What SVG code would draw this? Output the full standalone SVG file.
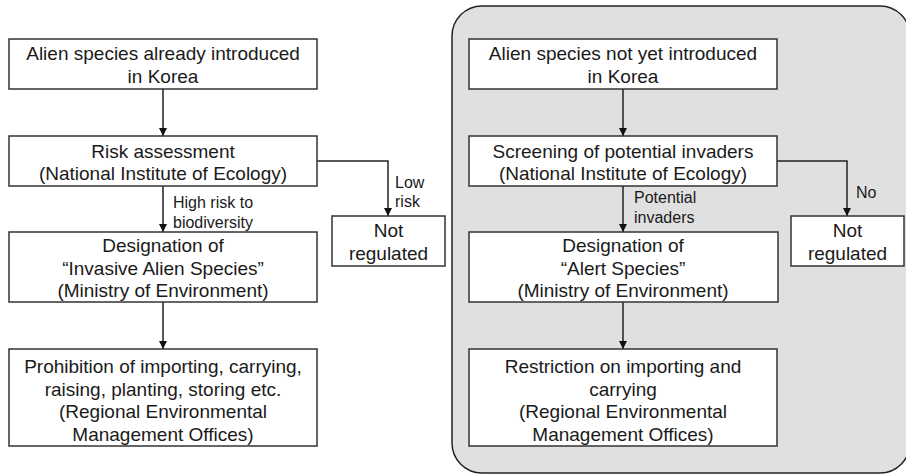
<svg xmlns="http://www.w3.org/2000/svg" width="906" height="474" viewBox="0 0 906 474">
<defs>
<style>
.box{fill:#fff;stroke:#333;stroke-width:1.5}
.t{font-family:"Liberation Sans",Arial,sans-serif;font-size:19px;fill:#1a1a1a;text-anchor:middle}
.s{font-family:"Liberation Sans",Arial,sans-serif;font-size:16px;fill:#1a1a1a}
.c{fill:none;stroke:#222;stroke-width:1.5}
</style>
<marker id="ah" viewBox="0 0 10 10" refX="10" refY="5" markerWidth="8" markerHeight="8" markerUnits="userSpaceOnUse" orient="auto">
<path d="M0,0 L10,5 L0,10 Z" fill="#111"/>
</marker>
</defs>
<rect width="906" height="474" fill="#fff"/>
<rect id="panel" x="452" y="6" width="458" height="467" rx="30" ry="30" fill="#e0e0e0" stroke="#222" stroke-width="1.5"/>

<g id="connectors">
<line class="c" x1="163" y1="89" x2="163" y2="136" marker-end="url(#ah)"/>
<line class="c" x1="163" y1="186" x2="163" y2="232" marker-end="url(#ah)"/>
<line class="c" x1="163" y1="302" x2="163" y2="349" marker-end="url(#ah)"/>
<polyline class="c" points="317,161 388,161 388,216" marker-end="url(#ah)"/>
<line class="c" x1="623" y1="89" x2="623" y2="136" marker-end="url(#ah)"/>
<line class="c" x1="623" y1="186" x2="623" y2="232" marker-end="url(#ah)"/>
<line class="c" x1="623" y1="302" x2="623" y2="349" marker-end="url(#ah)"/>
<polyline class="c" points="777,161 847,161 847,216" marker-end="url(#ah)"/>
<text class="s" x="173" y="208">High risk to</text>
<text class="s" x="173" y="228">biodiversity</text>
<text class="s" x="395" y="188">Low</text>
<text class="s" x="395" y="207">risk</text>
<text class="s" x="634" y="203">Potential</text>
<text class="s" x="634" y="223">invaders</text>
<text class="s" x="856" y="198">No</text>
</g>

<g id="l1">
<rect class="box" x="9" y="39" width="308" height="50"/>
<text class="t" x="163" y="60">Alien species already introduced</text>
<text class="t" x="163" y="83">in Korea</text>
</g>
<g id="l2">
<rect class="box" x="9" y="136" width="308" height="50"/>
<text class="t" x="163" y="158">Risk assessment</text>
<text class="t" x="163" y="180">(National Institute of Ecology)</text>
</g>
<g id="l3">
<rect class="box" x="9" y="232" width="308" height="70"/>
<text class="t" x="163" y="252">Designation of</text>
<text class="t" x="163" y="275">“Invasive Alien Species”</text>
<text class="t" x="163" y="297">(Ministry of Environment)</text>
</g>
<g id="l4">
<rect class="box" x="9" y="349" width="308" height="97"/>
<text class="t" x="163" y="373">Prohibition of importing, carrying,</text>
<text class="t" x="163" y="396">raising, planting, storing etc.</text>
<text class="t" x="163" y="418">(Regional Environmental</text>
<text class="t" x="163" y="441">Management Offices)</text>
</g>
<g id="lnr">
<rect class="box" x="332" y="216" width="113" height="50"/>
<text class="t" x="388.5" y="237">Not</text>
<text class="t" x="388.5" y="260">regulated</text>
</g>

<g id="r1">
<rect class="box" x="469" y="39" width="308" height="50"/>
<text class="t" x="623" y="60">Alien species not yet introduced</text>
<text class="t" x="623" y="83">in Korea</text>
</g>
<g id="r2">
<rect class="box" x="469" y="136" width="308" height="50"/>
<text class="t" x="623" y="158">Screening of potential invaders</text>
<text class="t" x="623" y="180">(National Institute of Ecology)</text>
</g>
<g id="r3">
<rect class="box" x="469" y="232" width="309" height="70"/>
<text class="t" x="623" y="252">Designation of</text>
<text class="t" x="623" y="275">“Alert Species”</text>
<text class="t" x="623" y="297">(Ministry of Environment)</text>
</g>
<g id="r4">
<rect class="box" x="469" y="349" width="308" height="97"/>
<text class="t" x="623" y="373">Restriction on importing and</text>
<text class="t" x="623" y="396">carrying</text>
<text class="t" x="623" y="418">(Regional Environmental</text>
<text class="t" x="623" y="441">Management Offices)</text>
</g>
<g id="rnr">
<rect class="box" x="791" y="216" width="113" height="50"/>
<text class="t" x="847.5" y="237">Not</text>
<text class="t" x="847.5" y="260">regulated</text>
</g>
</svg>
